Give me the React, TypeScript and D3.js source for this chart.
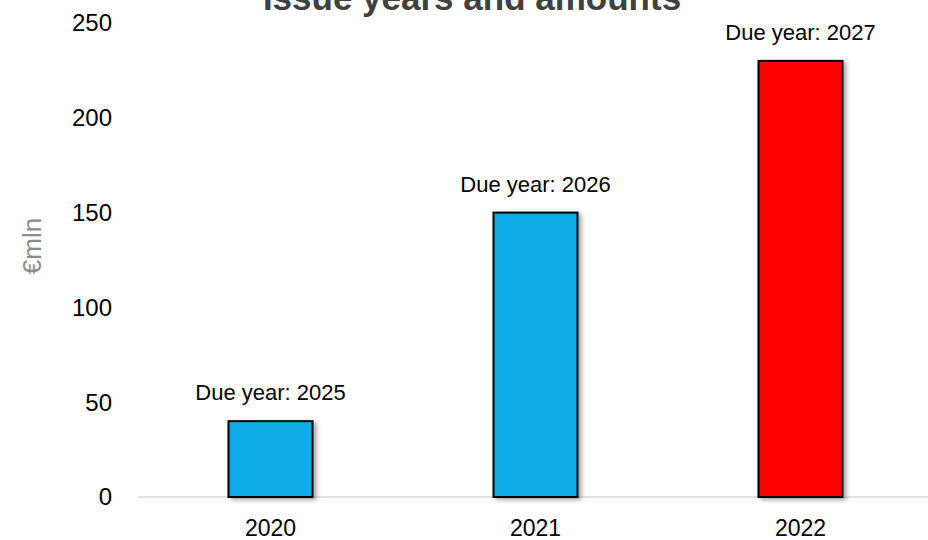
import React from "react";
import * as d3 from "d3";

const categories = ["2020", "2021", "2022"];
const amounts = [40, 150, 230];
const dueLabels = ["Due year: 2025", "Due year: 2026", "Due year: 2027"];
const barColors = ["#0AABE8", "#0AABE8", "#FF0000"];
const yTicks = [0, 50, 100, 150, 200, 250];

const W = 928;
const H = 540;

export default function App() {
  const x = d3.scaleBand<string>().domain(categories).range([138, 933]).padding(0);
  const y = d3.scaleLinear().domain([0, 250]).range([497, 23]);
  const barW = x.bandwidth() * 0.317;

  return (
    <svg
      width={W}
      height={H}
      style={{ position: "absolute", left: 0, top: 0, background: "#fff" }}
    >
      <defs>
        <filter id="shadow" x="-20%" y="-20%" width="150%" height="150%">
          <feDropShadow dx="3" dy="2" stdDeviation="2" floodColor="#000" floodOpacity="0.35" />
        </filter>
      </defs>
      <rect width={W} height={H} fill="#fff" />
      <text
        x={472}
        y={10}
        textAnchor="middle"
        fontFamily="Liberation Sans, Arial, sans-serif"
        fontWeight="bold"
        fontSize={35}
        fill="#404040"
      >
        Issue years and amounts
      </text>
      <line x1={138} x2={W} y1={y(0)} y2={y(0)} stroke="#d9d9d9" strokeWidth={1.5} />
      {yTicks.map((t) => (
        <text
          key={t}
          x={112}
          y={y(t)}
          dy="0.35em"
          textAnchor="end"
          fontFamily="Liberation Sans, Arial, sans-serif"
          fontSize={24}
          fill="#000"
        >
          {t}
        </text>
      ))}
      <text
        transform={`translate(41,246) rotate(-90)`}
        textAnchor="middle"
        fontFamily="Liberation Sans, Arial, sans-serif"
        fontSize={26}
        fill="#8c8c8c"
      >
        €mln
      </text>
      {categories.map((c, i) => {
        const cx = (x(c) as number) + x.bandwidth() / 2;
        return (
          <g key={c}>
            <rect
              x={cx - barW / 2}
              y={y(amounts[i])}
              width={barW}
              height={y(0) - y(amounts[i])}
              fill={barColors[i]}
              stroke="#000"
              strokeWidth={2}
              filter="url(#shadow)"
            />
            <text
              x={cx}
              y={y(amounts[i]) - 21}
              textAnchor="middle"
              fontFamily="Liberation Sans, Arial, sans-serif"
              fontSize={22}
              fill="#000"
            >
              {dueLabels[i]}
            </text>
            <text
              x={cx}
              y={y(0) + 39}
              textAnchor="middle"
              fontFamily="Liberation Sans, Arial, sans-serif"
              fontSize={23}
              fill="#000"
            >
              {c}
            </text>
          </g>
        );
      })}
    </svg>
  );
}
